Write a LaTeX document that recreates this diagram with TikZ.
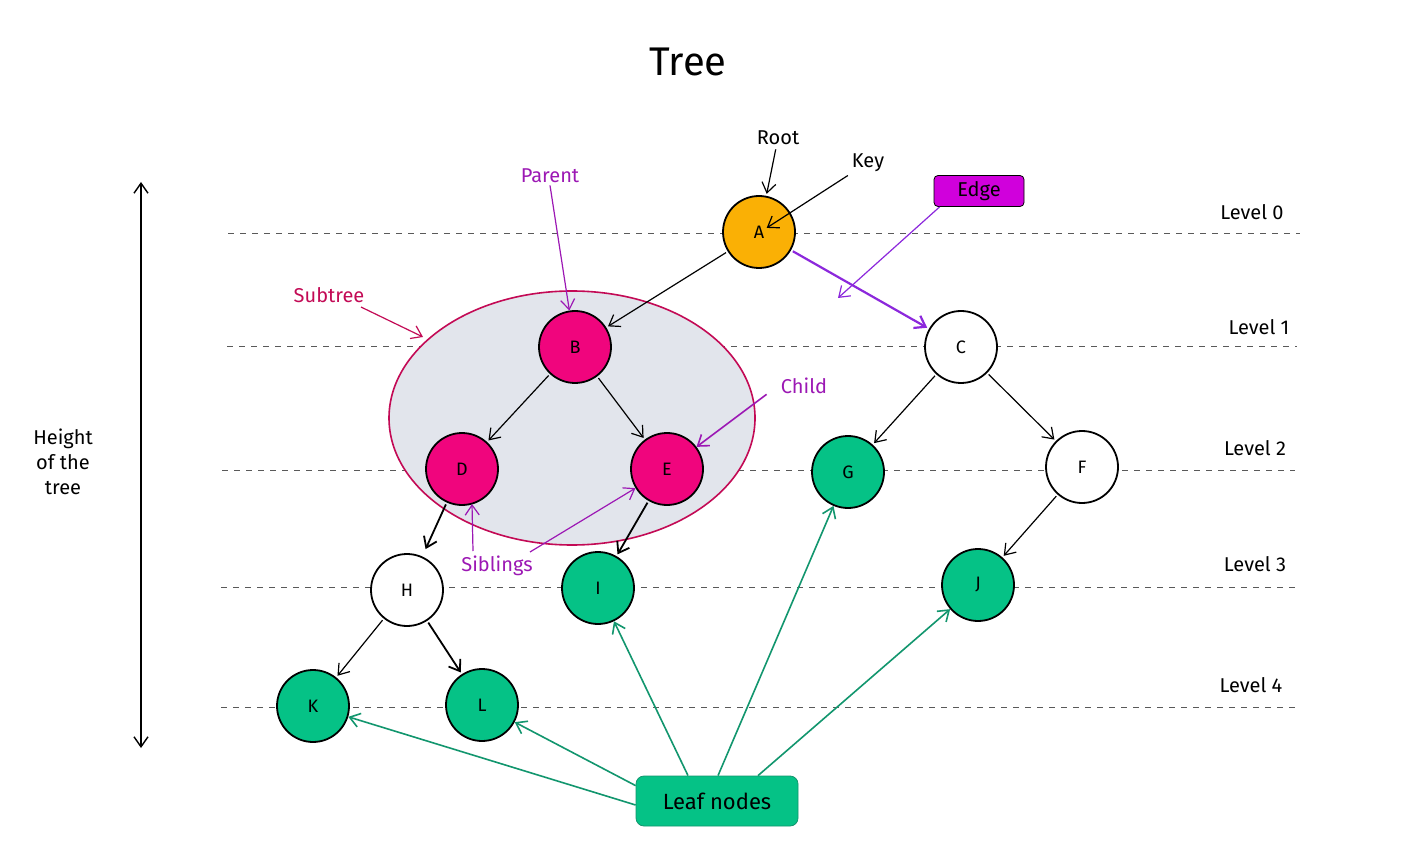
\documentclass[tikz,border=0pt]{standalone}
\usepackage{fontspec}
\setmainfont{Fira Sans}
\usetikzlibrary{arrows.meta,calc}
\definecolor{aorange}{RGB}{250,176,5}
\definecolor{apink}{RGB}{240,5,125}
\definecolor{agreen}{RGB}{5,194,134}
\definecolor{leafline}{RGB}{18,150,110}
\definecolor{lblpurple}{RGB}{156,24,180}
\definecolor{edgeviolet}{RGB}{140,40,220}
\definecolor{edgebox}{RGB}{208,0,220}
\definecolor{crimson}{RGB}{195,10,85}
\definecolor{hatch}{RGB}{226,229,236}
\begin{document}
\begin{tikzpicture}[x=0.5pt,y=-0.5pt,
  treenode/.style={circle,draw=black,line width=0.9pt,minimum size=36pt,inner sep=0pt,font=\fontsize{9}{11}\selectfont},
  tip/.style={-{Straight Barb[length=5pt,width=7pt]}},
  conn/.style={tip,draw=black,line width=0.6pt,shorten >=1pt,shorten <=1pt},
  levelline/.style={dashed,draw=black!65,line width=0.5pt,dash pattern=on 3pt off 3pt},
  lbl/.style={font=\fontsize{10}{12}\selectfont,inner sep=1pt},
  leafarrow/.style={tip,draw=leafline,line width=0.8pt},
]
\useasboundingbox (0,0) rectangle (1411,865);
\fill[white] (0,0) rectangle (1411,865);

% title
\node[font=\fontsize{20}{24}\selectfont] (title) at (688,62) {Tree};

% level lines
\draw[levelline] (228,234) -- (1300,234);
\draw[levelline] (227,347) -- (1297,347);
\draw[levelline] (222,470) -- (1295,470);
\draw[levelline] (221,587) -- (1295,587);
\draw[levelline] (221,707) -- (1295,707);

\node[lbl] (lv0) at (1252,212) {Level 0};
\node[lbl] (lv1) at (1259,327) {Level 1};
\node[lbl] (lv2) at (1255,448) {Level 2};
\node[lbl] (lv3) at (1255,564) {Level 3};
\node[lbl] (lv4) at (1251,685) {Level 4};

% height
\coordinate (htop) at (141,182);
\coordinate (hbot) at (141,748);
\draw[{Straight Barb[length=5pt,width=7pt]}-{Straight Barb[length=5pt,width=7pt]},line width=0.7pt] (htop) -- (hbot);
\node[lbl,align=center,font=\fontsize{10}{12.5}\selectfont] (height) at (63,462) {Height\\of the\\tree};

% subtree ellipse
\filldraw[fill=hatch,draw=crimson,line width=0.8pt] (572,418) ellipse [x radius=183, y radius=127];

% nodes
\node[treenode,fill=aorange] (A) at (759,232) {A};
\node[treenode,fill=apink] (B) at (575,347) {B};
\node[treenode,fill=white] (C) at (961,347) {C};
\node[treenode,fill=apink] (D) at (462,469) {D};
\node[treenode,fill=apink] (E) at (667,469) {E};
\node[treenode,fill=agreen] (G) at (848,472) {G};
\node[treenode,fill=white] (F) at (1082,467) {F};
\node[treenode,fill=white] (H) at (407,590) {H};
\node[treenode,fill=agreen] (I) at (598,588) {I};
\node[treenode,fill=agreen] (J) at (978,585) {J};
\node[treenode,fill=agreen] (K) at (313,706) {K};
\node[treenode,fill=agreen] (L) at (482,705) {L};

% tree edges
\draw[conn] (A) -- (B);
\draw[tip,draw=edgeviolet,line width=1.1pt,shorten >=1pt,shorten <=1pt] (A) -- (C);
\draw[conn] (B) -- (D);
\draw[conn] (B) -- (E);
\draw[conn] (C) -- (G);
\draw[conn] (C) -- (F);
\draw[conn,line width=0.9pt,shorten >=4pt] (D) -- (H);
\draw[conn,line width=0.9pt] (E) -- (I);
\draw[conn] (F) -- (J);
\draw[conn] (H) -- (K);
\draw[conn,line width=0.9pt] (H) -- (L);

% annotations
\node[lbl] (root) at (778,138) {Root};
\draw[conn] (root) -- (A);
\node[lbl] (key) at (868,163) {Key};
\coordinate (keyend) at (765,229);
\draw[conn] (key.south west) -- (keyend);

\node[lbl,text=lblpurple] (parent) at (550,176) {Parent};
\draw[tip,draw=lblpurple,line width=0.6pt] (parent.south) -- (B);

\node[draw=black,fill=edgebox,rounded corners=2pt,minimum width=45pt,minimum height=15.5pt,inner sep=0pt,font=\fontsize{10}{12}\selectfont] (edge) at (979,191) {Edge};
\coordinate (edgept) at (838,298);
\draw[tip,draw=edgeviolet,line width=0.6pt] ([xshift=3pt]edge.south west) -- (edgept);

\node[lbl,text=crimson] (subtree) at (329,295) {Subtree};
\coordinate (subend) at (423,337);
\draw[tip,draw=crimson,line width=0.6pt] ([xshift=16pt,yshift=-1pt]subtree.south) -- (subend);

\node[lbl,text=lblpurple] (child) at (804,386) {Child};
\draw[tip,draw=lblpurple,line width=0.8pt] ([xshift=-6pt,yshift=1pt]child.south west) -- (E);

\node[lbl,text=lblpurple] (sib) at (497,566) {Siblings};
\coordinate (sib1) at (473,551);
\coordinate (sib1e) at (472,504);
\coordinate (sib2) at (530,552);
\draw[tip,draw=lblpurple,line width=0.6pt] (sib1) -- (sib1e);
\draw[tip,draw=lblpurple,line width=0.6pt] (sib2) -- (E);

% leaf nodes
\node[draw=leafline,fill=agreen,rounded corners=4pt,minimum width=81pt,minimum height=25pt,inner sep=0pt,font=\fontsize{11}{13}\selectfont] (leaf) at (717,801) {Leaf nodes};
\draw[leafarrow] ([yshift=-2pt]leaf.west) -- (K);
\draw[leafarrow] ([yshift=-5pt]leaf.north west) -- (L);
\draw[leafarrow] ([xshift=-14.5pt]leaf.north) -- (I);
\draw[leafarrow] ([xshift=0.5pt]leaf.north) -- (G);
\draw[leafarrow] ([xshift=20.5pt]leaf.north) -- (J);
\end{tikzpicture}
\end{document}
